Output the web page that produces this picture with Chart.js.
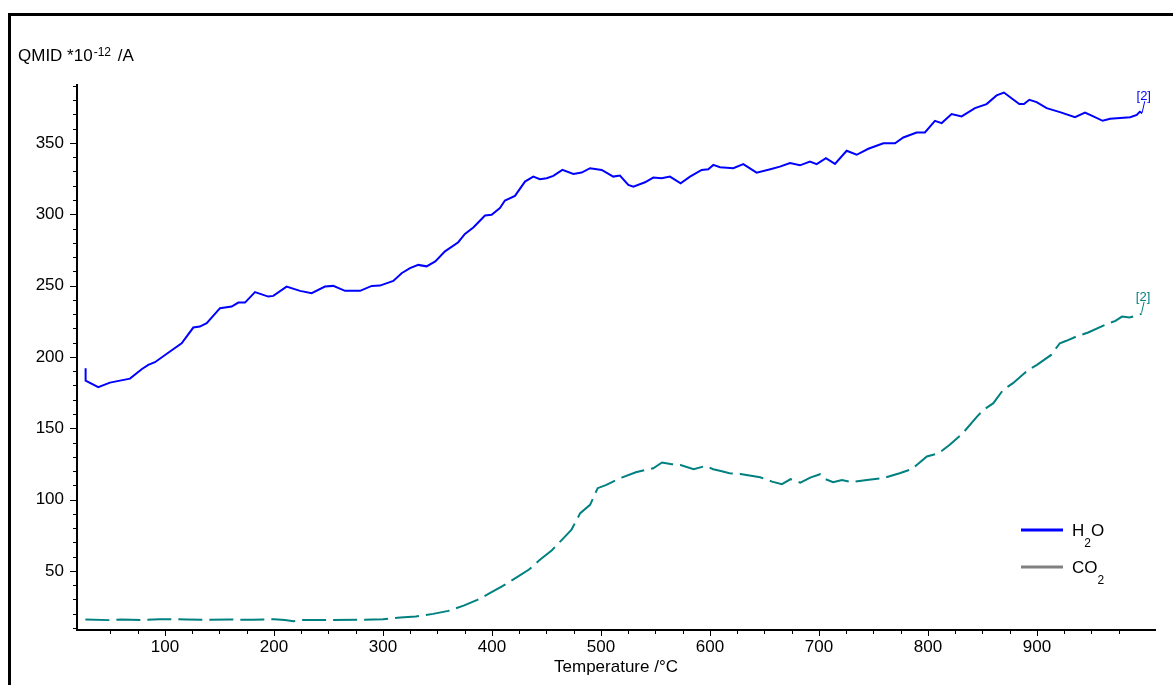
<!DOCTYPE html>
<html lang="en">
<head>
<meta charset="UTF-8">
<title>QMID - H2O / CO2</title>
<script src="https://cdn.jsdelivr.net/npm/chart.js"></script>
<style>
  html, body { margin: 0; padding: 0; background: #fff; overflow: hidden; }
  .frame { position: absolute; left: 8px; top: 13px; width: 1300px; height: 800px; border-left: 3px solid #000; border-top: 3px solid #000; }
  canvas { position: absolute; left: 0; top: 0; }
</style>
</head>
<body>
<div class="frame"></div>
<canvas id="qmid" width="1173" height="685"></canvas>
<script>
// data (temperature in °C, QMID signal in 1e-12 A)
const h2oTemp = [27.2, 27.2, 38.8, 49.5, 58.7, 67.9, 78.6, 84.7, 90.8, 104.6, 115.3, 126, 132, 138.3, 150.5, 161.2, 167.3, 173.4, 182.6, 194.8,
  199.4, 211.6, 223.9, 234.6, 246.8, 254.4, 265.2, 279, 289.7, 297.2, 309.5, 317.1, 324.8, 332.4, 340, 348, 356.9, 369.1, 375.2, 382.9,
  393.6, 399.7, 407.3, 411.9, 421.1, 430.3, 437.9, 444, 450.2, 456.3, 464.6, 474.7, 482.3, 490, 500.7, 511.3, 517.4, 525.1, 529.7, 540.4,
  548, 555.7, 563.3, 573.1, 581.7, 592.4, 598.5, 603.1, 609.2, 621.4, 630.6, 642.8, 655.4, 664.2, 673.4, 682.6, 691.7, 697.9, 706.4, 714.7,
  725.4, 734.6, 745.3, 759.1, 769.8, 777.4, 789.6, 797.2, 806.4, 812.6, 821.7, 830.9, 843.1, 853.8, 863, 869.7, 883.8, 888.1, 893, 899.7,
  908.9, 921.1, 934.9, 944.1, 951.7, 960.3, 967.1, 985.5, 991.6, 994.4, 996.6];
const h2oSignal = [192, 183.4, 178.8, 182, 183.4, 184.8, 191.4, 194.4, 196.3, 203.8, 209.6, 220.6, 221.3, 223.7, 234.2, 235.3, 238.1, 238.1, 245.4, 242.3,
  242.8, 249.3, 246.3, 244.7, 249.3, 249.8, 246.3, 246.3, 249.8, 250, 253.3, 258.7, 262.2, 264.5, 263.5, 267, 274, 280.4, 286.2, 290.7,
  299.1, 299.6, 304.3, 309.6, 312.9, 322.9, 326.4, 324.6, 325.3, 326.9, 331.1, 328.3, 329.2, 332.3, 331.1, 326.4, 327.1, 320.6, 319.4, 322.4,
  325.7, 325.3, 326.4, 321.7, 326.4, 331.1, 331.6, 334.6, 333, 332.3, 335.1, 329.2, 331.6, 333.4, 335.9, 334.3, 336.9, 335.1, 339.3, 335.3,
  344.5, 341.7, 345.9, 349.8, 349.8, 353.8, 357.3, 357.3, 365.5, 363.9, 370.2, 368.6, 374.4, 377.2, 383.3, 385.3, 377.2, 377.2, 380.2, 378.6,
  374.4, 371.6, 368, 371.3, 368.6, 365.5, 366.9, 368, 369.6, 371.9, 370.8];

const co2Temp = [27, 50, 60, 80, 95, 120, 140, 160, 180, 200, 210, 218, 225, 250, 280, 300, 316, 330, 346, 360,
  374, 386, 398, 410, 423, 434, 444, 455, 465, 473, 481, 490, 497, 505, 512, 519, 532, 548, 556, 565,
  573, 585, 596, 603, 610, 618, 628, 646, 657, 666, 674, 683, 692, 701, 706, 713, 721, 730, 744, 759,
  774, 785, 799, 810, 820, 832, 845, 851, 860, 869, 878, 892, 900, 913, 921, 927, 936, 947, 964, 972,
  978, 985, 991, 996];
const co2Signal = [16, 15.5, 16, 15.6, 16.2, 16, 15.8, 15.9, 15.8, 16.2, 15.6, 14.8, 15.6, 15.6, 15.8, 16.2, 17.3, 18, 19.9, 22,
  25.7, 29.5, 34.4, 39.5, 45.6, 51, 57.8, 64.5, 72.5, 79, 90.5, 96.3, 108, 110.3, 113, 115.4, 119.2, 122, 126, 124.8,
  124.3, 121.3, 123.6, 121.3, 120, 118.5, 118, 115.7, 112.6, 110.8, 114.3, 111.9, 115.4, 117.8, 114.3, 112.2, 113.8, 112.2, 113.8, 115,
  118.5, 121.3, 130.2, 132.6, 138.4, 146.6, 158.2, 162.9, 167.6, 176.9, 181.6, 190.9, 194.4, 201.4, 209.6, 211.3, 214.3, 217.1, 223, 225.3,
  228.3, 227.6, 229, 230.2];

const xTickLabels = [100, 200, 300, 400, 500, 600, 700, 800, 900];
const yTickLabels = [50, 100, 150, 200, 250, 300, 350];

const FONT = "'Liberation Sans', Arial, sans-serif";
const H2O_COLOR = '#0000ff';
const CO2_COLOR = '#008080';
const CO2_LEGEND = '#808080';

function toPoints(xs, ys) {
  return xs.map((x, i) => ({ x: x, y: ys[i] }));
}

// minor/major tick marks, y title, legend and the "[2]" end labels
const extras = {
  id: 'extras',
  afterDraw(chart) {
    const ctx = chart.ctx;
    const xs = chart.scales.x, ys = chart.scales.y;
    const area = chart.chartArea;
    ctx.save();

    ctx.strokeStyle = '#000';
    ctx.lineWidth = 1;
    ctx.beginPath();
    for (let v = 10; v <= 390; v += 10) {
      const py = Math.round(ys.getPixelForValue(v)) + 0.5;
      const len = v % 50 === 0 ? 6 : 3;
      ctx.moveTo(area.left - 1 - len, py);
      ctx.lineTo(area.left, py);
    }
    for (let v = 50; v <= 975; v += 25) {
      const px = Math.round(xs.getPixelForValue(v)) + 0.5;
      const len = v % 100 === 0 ? 5 : 3;
      ctx.moveTo(px, area.bottom);
      ctx.lineTo(px, area.bottom + 1 + len);
    }
    ctx.stroke();

    // y axis title with superscript
    ctx.fillStyle = '#000';
    ctx.textAlign = 'left';
    ctx.textBaseline = 'alphabetic';
    let x = 18;
    ctx.font = '17px ' + FONT;
    ctx.fillText('QMID *10', x, 61);
    x += ctx.measureText('QMID *10').width + 1;
    ctx.font = '12px ' + FONT;
    ctx.fillText('-12', x, 56);
    x += ctx.measureText('-12').width + 2;
    ctx.font = '17px ' + FONT;
    ctx.fillText(' /A', x, 61);

    // legend
    const items = [
      { base: 'H', sub: '2', tail: 'O', color: H2O_COLOR, y: 530 },
      { base: 'CO', sub: '2', tail: '', color: CO2_LEGEND, y: 567 }
    ];
    items.forEach(it => {
      ctx.strokeStyle = it.color;
      ctx.lineWidth = 3;
      ctx.beginPath();
      ctx.moveTo(1021, it.y);
      ctx.lineTo(1063, it.y);
      ctx.stroke();
      ctx.fillStyle = '#000';
      let tx = 1072;
      ctx.font = '17px ' + FONT;
      ctx.fillText(it.base, tx, it.y + 6);
      tx += ctx.measureText(it.base).width;
      ctx.font = '12px ' + FONT;
      ctx.fillText(it.sub, tx, it.y + 17);
      tx += ctx.measureText(it.sub).width;
      ctx.font = '17px ' + FONT;
      if (it.tail) ctx.fillText(it.tail, tx, it.y + 6);
    });

    // "[2]" markers at the end of each curve
    chart.data.datasets.forEach((ds, i) => {
      const pts = chart.getDatasetMeta(i).data;
      const p = pts[pts.length - 1];
      ctx.strokeStyle = ds.borderColor;
      ctx.lineWidth = 1;
      ctx.setLineDash([]);
      ctx.beginPath();
      ctx.moveTo(p.x, p.y - 1);
      ctx.lineTo(p.x + 2.5, p.y - 12);
      ctx.stroke();
      ctx.fillStyle = ds.borderColor;
      ctx.font = '13px ' + FONT;
      ctx.textAlign = 'center';
      ctx.fillText('[2]', p.x + 1.5, p.y - 13);
      ctx.textAlign = 'left';
    });

    ctx.restore();
  }
};

new Chart(document.getElementById('qmid'), {
  type: 'line',
  data: {
    datasets: [
      {
        label: 'H2O',
        data: toPoints(h2oTemp, h2oSignal),
        borderColor: H2O_COLOR,
        borderWidth: 2,
        pointRadius: 0,
        tension: 0,
        fill: false
      },
      {
        label: 'CO2',
        data: toPoints(co2Temp, co2Signal),
        borderColor: CO2_COLOR,
        borderWidth: 2,
        borderDash: [24, 7],
        pointRadius: 0,
        tension: 0,
        fill: false
      }
    ]
  },
  options: {
    responsive: false,
    animation: false,
    devicePixelRatio: 1,
    events: [],
    layout: { padding: { left: 0, top: 85, right: 18, bottom: 0 } },
    plugins: {
      legend: { display: false },
      tooltip: { enabled: false }
    },
    scales: {
      x: {
        type: 'linear',
        position: 'bottom',
        min: 19.3,
        max: 1008.3,
        grid: { display: false, drawTicks: false },
        border: { display: true, color: '#000', width: 2 },
        ticks: {
          stepSize: 100,
          includeBounds: false,
          autoSkip: false,
          maxRotation: 0,
          padding: 7,
          color: '#000',
          font: { family: FONT, size: 17 },
          callback: v => xTickLabels.includes(v) ? String(v) : ''
        },
        title: {
          display: true,
          text: 'Temperature /°C',
          color: '#000',
          font: { family: FONT, size: 17 },
          padding: { top: 0, bottom: 7 }
        },
        afterFit: s => { s.height = 55; }
      },
      y: {
        type: 'linear',
        min: 8.6,
        max: 390.6,
        grid: { display: false, drawTicks: false },
        border: { display: true, color: '#000', width: 2 },
        ticks: {
          stepSize: 50,
          includeBounds: false,
          autoSkip: false,
          padding: 13,
          color: '#000',
          font: { family: FONT, size: 17 },
          callback: v => yTickLabels.includes(v) ? String(v) : ''
        },
        afterFit: s => { s.width = 77; }
      }
    }
  },
  plugins: [extras]
});
</script>
</body>
</html>
